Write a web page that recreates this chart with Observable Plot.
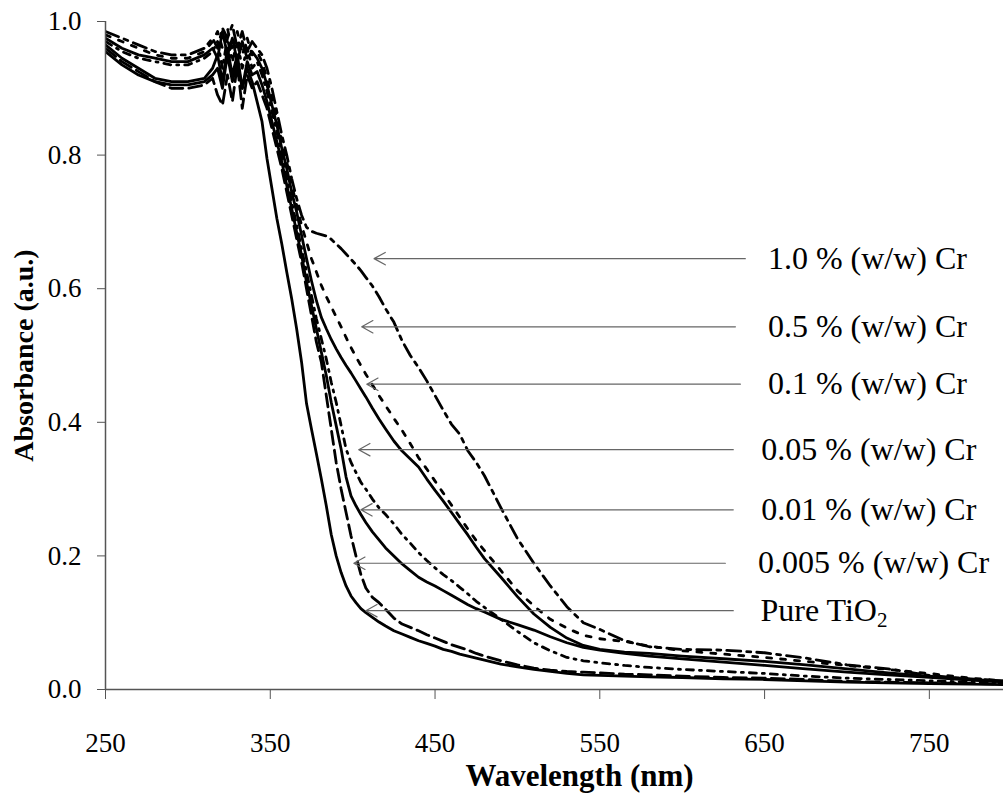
<!DOCTYPE html>
<html><head><meta charset="utf-8">
<script src="https://cdn.jsdelivr.net/npm/d3@7"></script>
<script src="https://cdn.jsdelivr.net/npm/@observablehq/plot@0.6"></script>
<style>
html,body{margin:0;padding:0;background:#fff;}
#chart svg{display:block;}
#chart svg text{font-family:"Liberation Serif","Times New Roman",serif;}
</style></head><body><div id="chart"></div>
<script>
const wavelength = [250,260,270,280,290,300,310,315,318,321,324,327,330,333,336,339,342,345,348,351,354,357,360,363,366,369,372,375,378,381,384,387,390,393,396,399,402,405,408,412,416,420,425,430,435,440,445,450,455,460,465,470,475,480,490,500,510,520,530,540,550,565,580,600,625,650,675,700,725,750,775,800];

const pureTiO2 = [0.955,0.935,0.92,0.91,0.905,0.905,0.91,0.92,0.93,0.90,0.95,0.91,0.94,0.90,0.93,0.91,0.88,0.85,0.795,0.75,0.705,0.667,0.625,0.585,0.54,0.49,0.428,0.39,0.353,0.315,0.275,0.232,0.2,0.175,0.155,0.14,0.13,0.121,0.115,0.108,0.101,0.095,0.088,0.083,0.078,0.073,0.069,0.065,0.06,0.057,0.053,0.05,0.047,0.044,0.038,0.034,0.03,0.027,0.024,0.022,0.021,0.02,0.019,0.018,0.016,0.015,0.013,0.011,0.01,0.009,0.008,0.007];

const cr0005 = [0.96,0.94,0.925,0.91,0.9,0.9,0.905,0.915,0.89,0.875,0.92,0.88,0.935,0.87,0.92,0.9,0.91,0.89,0.87,0.84,0.81,0.78,0.745,0.71,0.675,0.64,0.6,0.56,0.52,0.49,0.44,0.39,0.34,0.3,0.265,0.23,0.2,0.172,0.152,0.138,0.13,0.12,0.107,0.098,0.093,0.088,0.082,0.077,0.072,0.067,0.063,0.059,0.054,0.05,0.043,0.037,0.032,0.029,0.027,0.026,0.025,0.023,0.022,0.02,0.018,0.017,0.015,0.012,0.011,0.01,0.009,0.008];

const cr001 = [0.965,0.945,0.93,0.915,0.91,0.91,0.915,0.93,0.95,0.91,0.96,0.92,0.95,0.9,0.94,0.92,0.925,0.905,0.88,0.85,0.82,0.79,0.755,0.72,0.685,0.65,0.61,0.575,0.54,0.505,0.47,0.43,0.395,0.36,0.318,0.29,0.275,0.262,0.25,0.236,0.224,0.212,0.2,0.188,0.178,0.168,0.161,0.155,0.148,0.141,0.134,0.127,0.121,0.116,0.105,0.097,0.089,0.079,0.07,0.063,0.059,0.054,0.05,0.046,0.041,0.036,0.031,0.026,0.022,0.018,0.014,0.011];

const cr005 = [0.97,0.955,0.945,0.94,0.935,0.935,0.945,0.955,0.97,0.93,0.975,0.94,0.97,0.93,0.96,0.93,0.94,0.92,0.895,0.865,0.835,0.8,0.765,0.73,0.695,0.66,0.625,0.59,0.555,0.525,0.495,0.46,0.43,0.395,0.36,0.34,0.325,0.31,0.3,0.285,0.272,0.262,0.248,0.232,0.219,0.205,0.193,0.182,0.172,0.163,0.153,0.143,0.132,0.123,0.105,0.087,0.07,0.058,0.048,0.043,0.04,0.036,0.033,0.03,0.027,0.024,0.02,0.017,0.015,0.013,0.011,0.01];

const cr01 = [0.975,0.96,0.95,0.945,0.94,0.94,0.95,0.96,0.945,0.985,0.95,0.975,0.94,0.97,0.945,0.955,0.945,0.93,0.905,0.875,0.845,0.81,0.78,0.745,0.715,0.68,0.645,0.612,0.582,0.557,0.54,0.524,0.51,0.497,0.485,0.474,0.462,0.45,0.438,0.421,0.405,0.39,0.372,0.357,0.345,0.333,0.315,0.298,0.282,0.265,0.248,0.231,0.213,0.196,0.168,0.139,0.113,0.093,0.077,0.066,0.06,0.056,0.054,0.05,0.046,0.042,0.037,0.031,0.025,0.02,0.015,0.012];

const cr05 = [0.98,0.97,0.96,0.95,0.945,0.945,0.955,0.97,0.985,0.96,0.99,0.955,0.985,0.95,0.975,0.95,0.955,0.94,0.915,0.885,0.855,0.82,0.79,0.755,0.725,0.695,0.67,0.645,0.625,0.605,0.588,0.573,0.558,0.543,0.527,0.512,0.498,0.485,0.472,0.456,0.44,0.425,0.406,0.388,0.368,0.347,0.33,0.312,0.294,0.276,0.258,0.24,0.223,0.208,0.178,0.148,0.125,0.105,0.092,0.081,0.076,0.072,0.065,0.058,0.053,0.048,0.042,0.036,0.03,0.024,0.017,0.012];

const cr10 = [0.985,0.975,0.965,0.955,0.95,0.95,0.96,0.975,0.96,0.99,0.975,0.995,0.96,0.985,0.955,0.97,0.96,0.95,0.93,0.9,0.865,0.83,0.8,0.765,0.735,0.71,0.692,0.686,0.683,0.681,0.679,0.674,0.667,0.66,0.652,0.644,0.636,0.627,0.617,0.604,0.588,0.57,0.55,0.522,0.5,0.482,0.462,0.44,0.418,0.397,0.382,0.357,0.34,0.32,0.272,0.226,0.189,0.155,0.124,0.1,0.09,0.073,0.064,0.06,0.059,0.055,0.047,0.037,0.031,0.021,0.016,0.012];

const labelTexts = ["1.0 % (w/w) Cr","0.5 % (w/w) Cr","0.1 % (w/w) Cr","0.05 % (w/w) Cr","0.01 % (w/w) Cr","0.005 % (w/w) Cr","Pure TiO2"];
const arrowTipX = [413, 405.5, 408.6, 403.7, 405, 400.7, 408];
const arrowTipY = [0.645, 0.543, 0.457, 0.359, 0.269, 0.189, 0.118];
const arrowEndX = [638.3, 632.3, 635.3, 631, 631, 626.2, 631];
const labelX = [652, 652, 652, 648, 648, 646, 647.5];

const xTicks = [250,350,450,550,650,750];
const yTicks = [0,0.2,0.4,0.6,0.8,1.0];
const xTitle = "Wavelength (nm)";
const yTitle = "Absorbance (a.u.)";

const series = [
  {values: pureTiO2, dash: null},
  {values: cr0005, dash: "13,6"},
  {values: cr001, dash: null},
  {values: cr005, dash: "7,6,2,6"},
  {values: cr01, dash: null},
  {values: cr05, dash: "5,9"},
  {values: cr10, dash: "14,6,4,6"}
];

const font = '"Liberation Serif","Times New Roman",serif';
const marks = [];
series.forEach(s => {
  const rows = wavelength.map((w,i) => ({w, a: s.values[i]}));
  marks.push(Plot.line(rows, {x: "w", y: "a", stroke: "#000", strokeWidth: 2.8, strokeDasharray: s.dash, clip: true}));
});

const ann = labelTexts.map((t,i) => ({t, tx: arrowTipX[i], ty: arrowTipY[i], ex: arrowEndX[i], lx: labelX[i]}));

const chart = Plot.plot({
  width: 1003,
  height: 798,
  marginLeft: 105,
  marginRight: 0,
  marginTop: 21,
  marginBottom: 109,
  style: {fontFamily: font, fontSize: "27px", color: "#000", background: "#fff"},
  x: {domain: [250, 795]},
  y: {domain: [0, 1]},
  marks: [
    ...marks,
    Plot.arrow(ann, {x1: "ex", y1: "ty", x2: "tx", y2: "ty", stroke: "#666", strokeWidth: 1.2, headLength: 16, headAngle: 58}),
    Plot.text(ann, {x: "lx", y: "ty", text: "t", textAnchor: "start", fontSize: 32, fill: "#000", fontFamily: font}),
    Plot.ruleY([0], {stroke: "#555", strokeWidth: 1.5}),
    Plot.ruleX([250], {stroke: "#555", strokeWidth: 1.5}),
    Plot.axisX(xTicks, {tickSize: 10, tickPadding: 33, stroke: "#555", label: null, fontSize: 27, fontFamily: font, tickFormat: d => String(d)}),
    Plot.axisY(yTicks, {tickSize: 8, tickPadding: 16, stroke: "#555", label: null, fontSize: 27, fontFamily: font, tickFormat: d3.format(".1f")}),
    Plot.text([yTitle], {frameAnchor: "left", dx: -81, rotate: -90, textAnchor: "middle", fontWeight: "bold", fontSize: 28, fontFamily: font}),
    Plot.text([xTitle], {frameAnchor: "bottom", dx: 25, dy: 96, textAnchor: "middle", fontWeight: "bold", fontSize: 31, fontFamily: font})
  ]
});

document.getElementById("chart").appendChild(chart);

// subscript for TiO2
chart.querySelectorAll("text").forEach(el => {
  if (el.textContent === "Pure TiO2") {
    el.textContent = "Pure TiO";
    const ts = document.createElementNS("http://www.w3.org/2000/svg", "tspan");
    ts.textContent = "2";
    ts.setAttribute("font-size", "21");
    ts.setAttribute("dy", "6");
    el.appendChild(ts);
  }
});
</script>
</body></html>
